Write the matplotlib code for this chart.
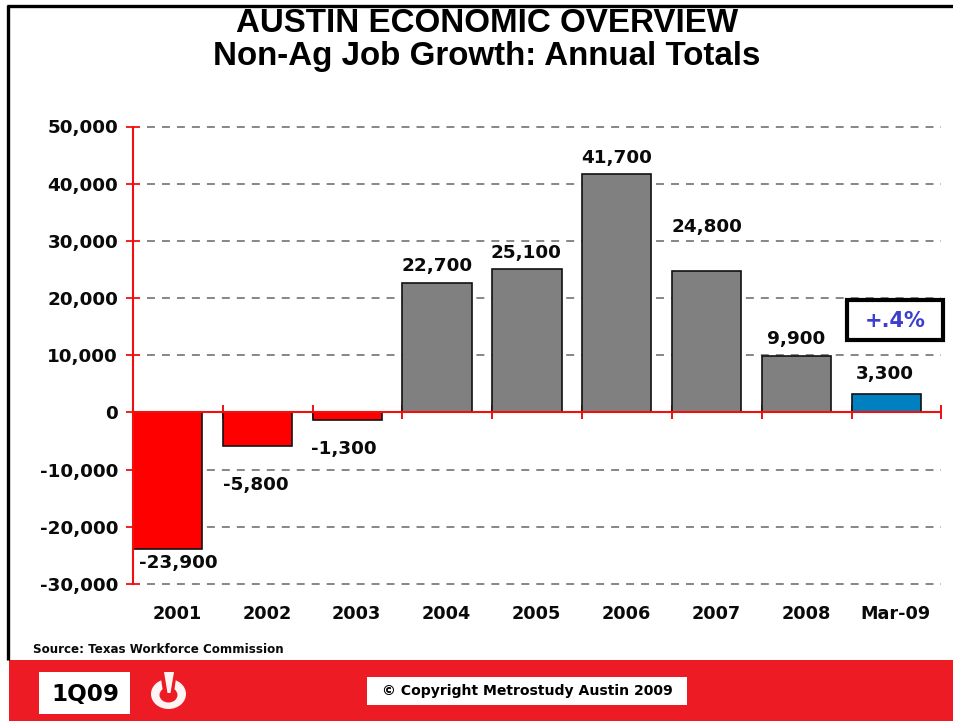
import matplotlib
matplotlib.use("Agg")
import matplotlib.pyplot as plt
from matplotlib.patches import Rectangle, Ellipse, Polygon

W, H = 954, 721
categories = ["2001", "2002", "2003", "2004", "2005", "2006", "2007", "2008", "Mar-09"]
values = [-23900, -5800, -1300, 22700, 25100, 41700, 24800, 9900, 3300]
value_labels = ["-23,900", "-5,800", "-1,300", "22,700", "25,100", "41,700", "24,800", "9,900", "3,300"]
y_ticks = [-30000, -20000, -10000, 0, 10000, 20000, 30000, 40000, 50000]
y_tick_labels = ["-30,000", "-20,000", "-10,000", "0", "10,000", "20,000", "30,000", "40,000", "50,000"]
title_line1 = "AUSTIN ECONOMIC OVERVIEW"
title_line2 = "Non-Ag Job Growth: Annual Totals"
source_text = "Source: Texas Workforce Commission"
copyright_text = "© Copyright Metrostudy Austin 2009"
quarter_text = "1Q09"
callout_text = "+.4%"

# label placement (pixel offsets from the bar end, x from the bar centre)
label_dx = [11, -2, -3, 0, -1, 0, 0, 0, -1]
label_dy = [-14, -39, -29, 17, 16, 16, 44, 17, 20]

RED = "#ED1C24"
AXIS_RED = "#F01010"
GRAY = "#808080"
BLUE = "#0080C0"
TEXT = "#0A0A0A"
LABEL_FONT = "DejaVu Sans"
bar_colors = ["#FF0000"] * 3 + [GRAY] * 5 + [BLUE]

fig = plt.figure(figsize=(W / 100, H / 100), dpi=100, facecolor="white")

# overlay in pixel coordinates for page furniture
bg = fig.add_axes([0, 0, 1, 1], zorder=0)
bg.set_xlim(0, W); bg.set_ylim(H, 0); bg.axis("off")
bg.plot([8.5, 8.5], [5, 660], color="black", lw=2.4, solid_capstyle="butt")
bg.plot([7.5, W], [5.5, 5.5], color="black", lw=2.4, solid_capstyle="butt")
bg.add_patch(Rectangle((9, 660), W - 9, 61, fc=RED, ec="none"))
bg.add_patch(Rectangle((39, 672), 91, 42, fc="white", ec="none"))
bg.add_patch(Rectangle((367, 677), 320, 28, fc="white", ec="none"))
bg.text(487, 32.5, title_line1, ha="center", va="baseline", fontsize=23.9, fontweight="bold",
        family="Liberation Sans", color="black")
bg.text(487, 65, title_line2, ha="center", va="baseline", fontsize=23.9, fontweight="bold",
        family="Liberation Sans", color="black")
bg.text(33, 649.5, source_text, ha="left", va="center", fontsize=8.6, fontweight="bold",
        family=LABEL_FONT, color=TEXT)
bg.text(85, 695, quarter_text, ha="center", va="center", fontsize=16.7, fontweight="bold",
        family=LABEL_FONT, color="black")
bg.text(527, 691, copyright_text, ha="center", va="center", fontsize=10.1, fontweight="bold",
        family=LABEL_FONT, color="black")
# power-button logo
bg.add_patch(Ellipse((168.5, 694), 35, 30, fc="#FFF4F4", ec="none"))
bg.add_patch(Ellipse((168.5, 695), 18, 15, fc=RED, ec="none"))
bg.add_patch(Polygon([[160, 672], [177, 672], [174, 692], [163, 692]], fc=RED, ec="none"))
bg.add_patch(Polygon([[164, 672], [174, 672], [170.5, 693], [167.5, 693]], fc="#FFF4F4", ec="none"))

left, right, top, bottom = 133, 941.5, 126.5, 584
ax = fig.add_axes([left / W, 1 - bottom / H, (right - left) / W, (bottom - top) / H], zorder=1)
ax.patch.set_alpha(0)
ax.set_xlim(0, len(categories))
ax.set_ylim(-30000, 50000)

ax.bar(range(len(values)), values, width=0.77, align="edge", color=bar_colors,
       edgecolor="#111111", linewidth=1.2, zorder=3)

for s in ["top", "right", "bottom"]:
    ax.spines[s].set_visible(False)
ax.spines["left"].set_color(AXIS_RED)
ax.spines["left"].set_linewidth(1.5)
ax.spines["left"].set_zorder(5)

ax.set_yticks(y_ticks)
ax.set_yticklabels(y_tick_labels, fontsize=13.2, fontweight="bold", family=LABEL_FONT, color=TEXT)
ax.tick_params(axis="y", direction="inout", length=9.5, width=1.3, color=AXIS_RED, pad=6)

ax.set_xticks([])
ax.grid(False)
for yv in y_ticks:
    if yv != 0:
        ax.plot([0.16, len(categories)], [yv, yv], color="#666666", lw=1.1,
                dashes=(5.2, 4.6), zorder=1, clip_on=False)

# zero line and its crossing ticks (ticks sit behind the bars)
ax.axhline(0, color=AXIS_RED, lw=1.5, zorder=4)
for i in range(len(categories) + 1):
    ax.plot([i, i], [0, 0], marker="|", ms=9.5, mew=1.2, color=AXIS_RED, zorder=2, clip_on=False)

trans = ax.get_xaxis_transform()
for i, c in enumerate(categories):
    ax.text(i + 0.49, -0.0655, c, transform=trans, ha="center", va="center", fontsize=12.7,
            fontweight="bold", family=LABEL_FONT, color=TEXT)

for i, (v, t) in enumerate(zip(values, value_labels)):
    ax.annotate(t, (i + 0.385, v), xytext=(label_dx[i] * 0.72, label_dy[i] * 0.72),
                textcoords="offset points", ha="center", va="center", fontsize=13.2,
                fontweight="bold", family=LABEL_FONT, color=TEXT, zorder=6)

# callout
bg2 = fig.add_axes([0, 0, 1, 1], zorder=2)
bg2.set_xlim(0, W); bg2.set_ylim(H, 0); bg2.axis("off")
bg2.add_patch(Rectangle((847, 300), 96, 40, fc="white", ec="black", lw=3))
bg2.text(895, 321, callout_text, ha="center", va="center", fontsize=15, fontweight="bold",
         family=LABEL_FONT, color="#3F3FCF")

fig.savefig("out.png", dpi=100, facecolor="white")
